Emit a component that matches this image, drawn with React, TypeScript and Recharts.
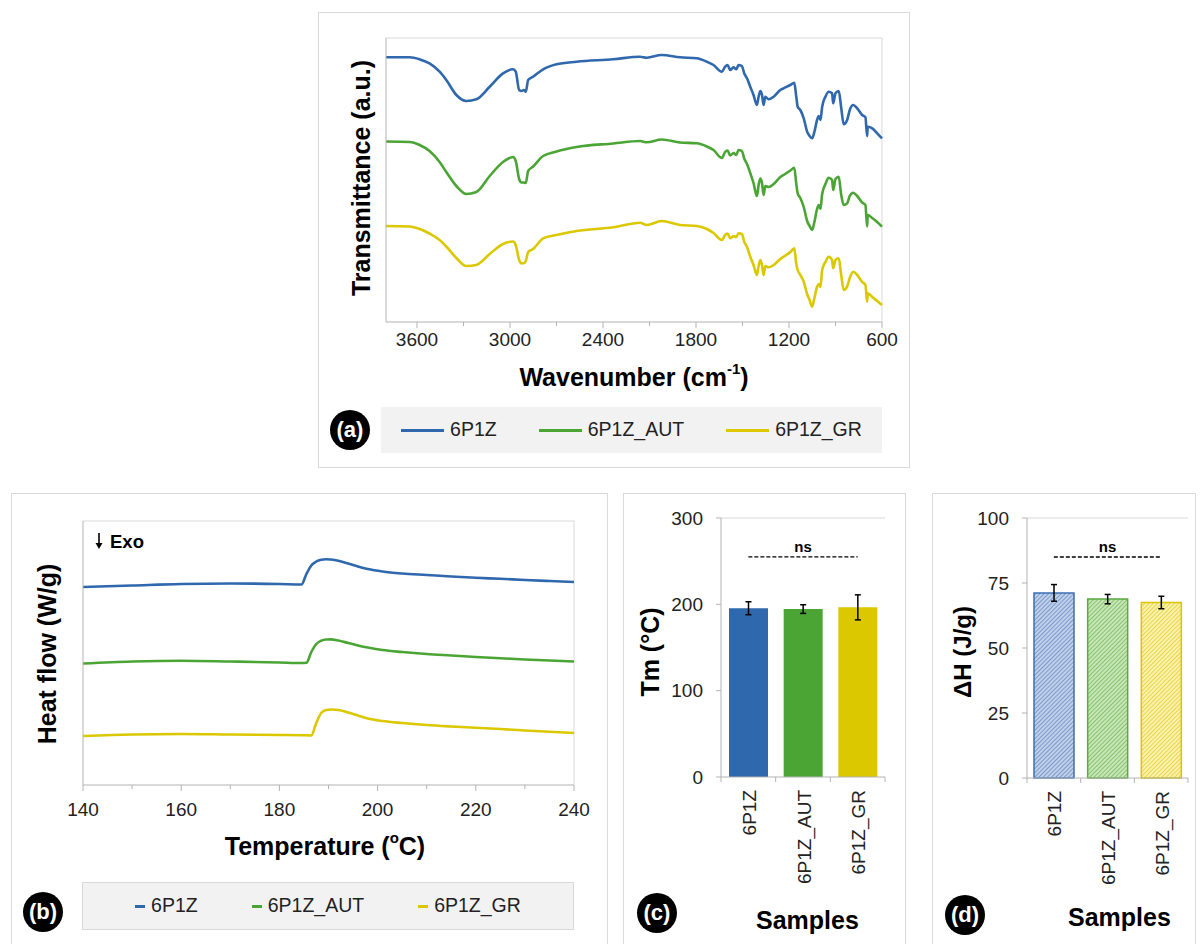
import React from 'react';
import { LineChart, Line, BarChart, Bar, XAxis, YAxis, ReferenceLine, Legend, ErrorBar, Cell } from 'recharts';

const FONT = '"Liberation Sans", Arial, Helvetica, sans-serif';
const BLUE = '#2f68ad';
const GREEN = '#4aa534';
const YELLOW = '#dcc800';
const AXIS = '#b3b3b3';
const FRAME = '#d9d9d9';
const TXT = '#222222';
const TICK_SIZE = 19;

// ---------- (a) FTIR ----------
const WAVENUMBER = [3800, 3648, 3583, 3519, 3454, 3411, 3346, 3282, 3217, 3131, 3045, 2980, 2963, 2941, 2926, 2911, 2898, 2883, 2851, 2786, 2700, 2570, 2334, 2161, 2118, 2021, 1903, 1795, 1730, 1687, 1633, 1612, 1597, 1579, 1558, 1540, 1526, 1504, 1489, 1471, 1450, 1429, 1407, 1396, 1385, 1374, 1364, 1353, 1332, 1299, 1256, 1235, 1191, 1166, 1153, 1144, 1127, 1105, 1083, 1067, 1051, 1036, 1019, 1008, 997, 986, 965, 944, 922, 915, 900, 879, 864, 847, 825, 808, 786, 760, 728, 707, 696, 692, 663, 631, 600];
const FTIR_6P1Z = [264.7, 264.7, 262.7, 258.7, 250.3, 242, 227, 221, 222.7, 235.3, 248.7, 252.7, 250.3, 232, 231, 232, 230.3, 242, 245.3, 252.7, 257.7, 260.3, 262.7, 265.3, 264.3, 267, 264.7, 263.7, 260.3, 257, 250.3, 255.3, 257, 252, 254.7, 252.7, 257, 256, 248.7, 243.7, 235.3, 227, 217, 225.3, 231, 227, 217, 225.3, 222.7, 225.3, 232, 233.7, 237, 239.3, 225.3, 215.3, 212, 203.7, 190.3, 186, 183.7, 190.3, 202, 206, 202, 215.3, 225.3, 230.3, 228.7, 218.7, 228.7, 231, 215.3, 197.7, 202, 212, 217, 213.7, 207, 204.7, 186, 195.3, 193.7, 188.7, 183.7];
const FTIR_AUT = [180.5, 180, 177, 171, 160, 150, 136, 128, 130, 146, 160, 165, 161, 143, 139.5, 139.5, 139, 151, 155.5, 166, 170.5, 175, 178.5, 181, 179.7, 182.5, 179.5, 178.7, 175.5, 172, 164, 170, 171.5, 166.5, 169, 167, 172, 171, 163.5, 158, 149, 139, 126, 137, 143.5, 139, 127, 136, 135, 138, 145, 147, 151.5, 154.3, 138, 128.7, 124, 115, 101, 96, 92, 100, 113, 117, 113, 128, 138, 144.3, 142, 132, 143, 145.3, 128, 117, 118.7, 126, 129.3, 126, 119.5, 117, 95.5, 107, 104, 100, 95.3];
const FTIR_GR = [96, 95.5, 93, 88.5, 82, 75.5, 64, 56, 57, 68, 78, 80.5, 77, 62, 58.7, 58.7, 61, 70, 73, 83.7, 87, 91, 94.7, 99.3, 97, 101, 97, 96, 93, 89, 82, 87, 88.5, 83.7, 86, 85, 88.7, 88, 80.3, 75, 65.3, 57, 47, 56, 62, 57, 47, 56, 54.7, 57, 63, 65.3, 70, 73.7, 58, 52, 47, 40.3, 28, 22, 15.3, 24, 35.3, 38, 35, 52, 60, 65.3, 62, 53.7, 62, 63.7, 48, 32, 35.3, 44, 50.3, 47, 40, 37, 20.3, 28.7, 25, 21, 17];
const FTIR_TICKS = [3600, 3300, 3000, 2700, 2400, 2100, 1800, 1500, 1200, 900, 600];

// ---------- (b) DSC ----------
const TEMP = [140, 150, 160, 170, 180, 184.5, 185.5, 186.5, 187.5, 188.5, 189.5, 190.5, 192, 194, 196, 198, 201, 205, 210, 215, 220, 225, 230, 235, 240];
const DSC_6P1Z = [198, 199.5, 201, 201.5, 201, 200.5, 211, 219.5, 223.5, 225.3, 225.8, 225.5, 224.3, 221.5, 218.5, 216, 213.5, 211.5, 210, 208.5, 207.2, 206.2, 205, 204, 203];
const DSC_AUT = [121.5, 123.5, 124.3, 123.5, 122.5, 122, 122.2, 133, 141, 144.3, 145.5, 145.6, 144.5, 142, 139.5, 137.5, 135, 133, 131, 129.5, 128, 126.8, 125.5, 124.5, 123.5];
const DSC_GR = [49, 50.5, 51, 50.5, 50, 49.8, 49.7, 49.5, 62, 72, 75, 75.5, 75, 72.5, 69.5, 66.5, 64, 62, 60, 58.5, 57.2, 56, 54.5, 53.2, 52];
const DSC_TICKS = [140, 150, 160, 170, 180, 190, 200, 210, 220, 230, 240];

// ---------- (c), (d) bars ----------
const SAMPLES = ['6P1Z', '6P1Z_AUT', '6P1Z_GR'];
const TM_MEAN = [195.5, 194.5, 196.5];
const TM_SD = [7.5, 5, 14.5];
const DH_MEAN = [71.2, 68.8, 67.5];
const DH_SD = [3.2, 1.8, 2.4];
const TM_TICKS = [0, 100, 200, 300];
const DH_TICKS = [0, 25, 50, 75, 100];
const TM_NS = 255;
const DH_NS = 85;

const ftirRows = WAVENUMBER.map((wn, i) => ({ wn, a: FTIR_6P1Z[i], b: FTIR_AUT[i], c: FTIR_GR[i] }));
const dscRows = TEMP.map((t, i) => ({ t, a: DSC_6P1Z[i], b: DSC_AUT[i], c: DSC_GR[i] }));
const tmRows = SAMPLES.map((name, i) => ({ name, v: TM_MEAN[i], sd: TM_SD[i] }));
const dhRows = SAMPLES.map((name, i) => ({ name, v: DH_MEAN[i], sd: DH_SD[i] }));

const BAR_COLORS = [BLUE, GREEN, YELLOW];
const HATCH_IDS = ['hatchBlue', 'hatchGreen', 'hatchYellow'];
const HATCH_EDGE = ['#3a6fb5', '#5aab3e', '#d9c400'];

function NumTick(props: any) {
  const { x, y, payload, majorStep, labelGap } = props;
  const v = payload.value;
  const major = Math.abs(v % majorStep) < 1e-6;
  return (
    <g>
      <line x1={x} x2={x} y1={y} y2={y + (major ? 6 : 4)} stroke={AXIS} strokeWidth={1} />
      {major && (
        <text x={x} y={y + labelGap} textAnchor="middle" dominantBaseline="central" fontSize={TICK_SIZE} fill={TXT} fontFamily={FONT}>
          {v}
        </text>
      )}
    </g>
  );
}

function CatTick(props: any) {
  const { x, y, payload, index, visibleTicksCount, width } = props;
  const count = visibleTicksCount || 3;
  const half = (width ? width / count : 54) / 2;
  return (
    <g>
      <line x1={x - half} x2={x - half} y1={y} y2={y + 5} stroke={AXIS} />
      {index === count - 1 && <line x1={x + half} x2={x + half} y1={y} y2={y + 5} stroke={AXIS} />}
      <text transform={`translate(${x + 1},${y + 13}) rotate(-90)`} textAnchor="end" dominantBaseline="central" fontSize={TICK_SIZE} fill={TXT} fontFamily={FONT}>
        {payload.value}
      </text>
    </g>
  );
}

function VTitle(props: any) {
  const { tx, ty, txt, size } = props;
  return (
    <text x={tx} y={ty} transform={`rotate(-90 ${tx} ${ty})`} textAnchor="middle" dominantBaseline="central" fontSize={size} fontWeight="bold" fill="#000" fontFamily={FONT}>
      {txt}
    </text>
  );
}

function HTitle(props: any) {
  const { tx, ty, pre, sup, post, size } = props;
  return (
    <text x={tx} y={ty} textAnchor="middle" dominantBaseline="central" fontSize={size} fontWeight="bold" fill="#000" fontFamily={FONT}>
      {pre}
      {sup ? <tspan dy={-9} fontSize={size * 0.6}>{sup}</tspan> : null}
      {sup ? <tspan dy={9}>{post}</tspan> : post}
    </text>
  );
}

function FixedText(props: any) {
  const { tx, ty, txt, size } = props;
  return (
    <text x={tx} y={ty} dominantBaseline="central" fontSize={size} fontWeight="bold" fill="#000" fontFamily={FONT}>
      {txt}
    </text>
  );
}

function ExoMark(props: any) {
  const { tx, ty } = props;
  return (
    <g>
      <line x1={tx} x2={tx} y1={ty - 8} y2={ty + 3} stroke="#000" strokeWidth={1.6} />
      <polygon points={`${tx - 3.5},${ty + 2} ${tx + 3.5},${ty + 2} ${tx},${ty + 8}`} fill="#000" />
      <text x={tx + 11} y={ty} dominantBaseline="central" fontSize={18.5} fontWeight="bold" fill="#000" fontFamily={FONT}>
        Exo
      </text>
    </g>
  );
}

function makeLegend(opts: any) {
  return (props: any) => {
    const items = props.payload || [];
    return (
      <div style={{ width: '100%', height: '100%', boxSizing: 'border-box', background: '#f2f2f2', border: opts.border, display: 'flex', alignItems: 'center', justifyContent: 'center', gap: opts.gap, fontFamily: FONT }}>
        {items.map((it: any, i: number) => (
          <div key={i} style={{ display: 'flex', alignItems: 'center' }}>
            <div style={{ width: opts.lineLen, height: 3, background: it.color }} />
            <span style={{ marginLeft: opts.textGap, fontSize: opts.fontSize, color: TXT, lineHeight: 1 }}>{it.value}</span>
          </div>
        ))}
      </div>
    );
  };
}

function Badge({ cx, cy, t }: any) {
  return (
    <div style={{ position: 'absolute', left: cx - 20, top: cy - 20, width: 40, height: 40, borderRadius: '50%', background: '#000', color: '#fff', display: 'flex', alignItems: 'center', justifyContent: 'center', fontWeight: 'bold', fontSize: 22, fontFamily: FONT }}>
      {t}
    </div>
  );
}

function Box({ left, top, width, height }: any) {
  return <div style={{ position: 'absolute', left, top, width, height, boxSizing: 'border-box', border: `1px solid ${FRAME}` }} />;
}

const legendA = makeLegend({ lineLen: 43, textGap: 6, gap: 42, fontSize: 19.5, border: 'none' });
const legendB = makeLegend({ lineLen: 10, textGap: 6, gap: 54, fontSize: 19.5, border: `1px solid ${FRAME}` });

export default function App() {
  return (
    <div style={{ position: 'absolute', left: 0, top: 0, width: 1200, height: 944, background: '#fff', overflow: 'hidden', fontFamily: FONT }}>
      <Box left={318} top={12} width={592} height={456} />
      <Box left={11} top={493} width={597} height={470} />
      <Box left={623} top={493} width={283} height={470} />
      <Box left={932} top={493} width={264} height={470} />

      {/* (a) FTIR */}
      <div style={{ position: 'absolute', left: 318, top: 12 }}>
        <LineChart width={592} height={456} data={ftirRows} margin={{ top: 26, right: 28, bottom: 0, left: 0 }}>
          <XAxis
            dataKey="wn"
            type="number"
            domain={[600, 3800]}
            reversed
            ticks={FTIR_TICKS}
            interval={0}
            height={146}
            tickSize={0}
            tickMargin={0}
            tickLine={false}
            axisLine={{ stroke: AXIS }}
            tick={<NumTick majorStep={600} labelGap={17} />}
            label={<HTitle tx={316} ty={365} pre="Wavenumber (cm" sup="-1" post=")" size={25} />}
          />
          <YAxis
            type="number"
            domain={[0, 284]}
            width={68}
            tick={false}
            tickLine={false}
            axisLine={{ stroke: AXIS }}
            label={<VTitle tx={43} ty={166} txt="Transmittance (a.u.)" size={25} />}
          />
          <ReferenceLine y={284} stroke={FRAME} />
          <ReferenceLine x={600} stroke={FRAME} />
          <Line dataKey="a" name="6P1Z" type="monotone" stroke={BLUE} strokeWidth={2.6} dot={false} isAnimationActive={false} />
          <Line dataKey="b" name="6P1Z_AUT" type="monotone" stroke={GREEN} strokeWidth={2.6} dot={false} isAnimationActive={false} />
          <Line dataKey="c" name="6P1Z_GR" type="monotone" stroke={YELLOW} strokeWidth={2.6} dot={false} isAnimationActive={false} />
          <Legend layout="horizontal" verticalAlign="middle" align="center" wrapperStyle={{ left: 63, top: 395, width: 501, height: 46 }} content={legendA} />
        </LineChart>
      </div>

      {/* (b) DSC */}
      <div style={{ position: 'absolute', left: 11, top: 493 }}>
        <LineChart width={597} height={451} data={dscRows} margin={{ top: 28, right: 34, bottom: 0, left: 0 }}>
          <XAxis
            dataKey="t"
            type="number"
            domain={[140, 240]}
            ticks={DSC_TICKS}
            interval={0}
            height={159}
            tickSize={0}
            tickMargin={0}
            tickLine={false}
            axisLine={{ stroke: AXIS }}
            tick={<NumTick majorStep={20} labelGap={24} />}
            label={<HTitle tx={314} ty={353} pre="Temperature (" sup="o" post="C)" size={25} />}
          />
          <YAxis
            type="number"
            domain={[0, 264]}
            width={72}
            tick={false}
            tickLine={false}
            axisLine={{ stroke: AXIS }}
            label={<VTitle tx={36} ty={161} txt="Heat flow (W/g)" size={25} />}
          />
          <ReferenceLine y={264} stroke={FRAME} label={<ExoMark tx={88} ty={48} />} />
          <ReferenceLine x={240} stroke={FRAME} />
          <Line dataKey="a" name="6P1Z" type="monotone" stroke={BLUE} strokeWidth={2.6} dot={false} isAnimationActive={false} />
          <Line dataKey="b" name="6P1Z_AUT" type="monotone" stroke={GREEN} strokeWidth={2.6} dot={false} isAnimationActive={false} />
          <Line dataKey="c" name="6P1Z_GR" type="monotone" stroke={YELLOW} strokeWidth={2.6} dot={false} isAnimationActive={false} />
          <Legend layout="horizontal" verticalAlign="middle" align="center" wrapperStyle={{ left: 71, top: 389, width: 492, height: 48 }} content={legendB} />
        </LineChart>
      </div>

      {/* (c) Tm */}
      <div style={{ position: 'absolute', left: 623, top: 493 }}>
        <BarChart width={283} height={451} data={tmRows} margin={{ top: 25, right: 21, bottom: 0, left: 0 }}>
          <XAxis
            dataKey="name"
            interval={0}
            height={167}
            tickSize={0}
            tickMargin={0}
            tickLine={false}
            axisLine={{ stroke: AXIS }}
            tick={<CatTick />}
            label={<FixedText tx={133} ty={427} txt="Samples" size={25} />}
          />
          <YAxis
            type="number"
            domain={[0, 300]}
            ticks={TM_TICKS}
            interval={0}
            width={98}
            tickSize={5}
            tickMargin={13}
            tickLine={{ stroke: AXIS }}
            axisLine={{ stroke: AXIS }}
            tick={{ fontSize: TICK_SIZE, fill: TXT, fontFamily: FONT }}
            label={<VTitle tx={27} ty={159} txt="Tm (°C)" size={25} />}
          />
          <YAxis yAxisId="frame" orientation="right" type="number" domain={[0, 1]} width={0} tick={false} tickLine={false} axisLine={{ stroke: FRAME }} />
          <ReferenceLine y={300} stroke={FRAME} />
          <Bar dataKey="v" barSize={39} isAnimationActive={false}>
            {tmRows.map((r, i) => (
              <Cell key={r.name} fill={BAR_COLORS[i]} />
            ))}
            <ErrorBar dataKey="sd" width={3} strokeWidth={1.5} stroke="#000" direction="y" />
          </Bar>
          <ReferenceLine
            segment={[{ x: SAMPLES[0], y: TM_NS }, { x: SAMPLES[2], y: TM_NS }]}
            stroke="#000"
            strokeWidth={1.4}
            strokeDasharray="4 2"
            label={{ value: 'ns', position: 'top', offset: 5, fill: '#000', fontSize: 15, fontWeight: 'bold' }}
          />
        </BarChart>
      </div>

      {/* (d) ΔH */}
      <div style={{ position: 'absolute', left: 932, top: 493 }}>
        <BarChart width={264} height={451} data={dhRows} margin={{ top: 25, right: 8, bottom: 0, left: 0 }}>
          <defs>
            <pattern id="hatchBlue" width="3" height="3" patternUnits="userSpaceOnUse" patternTransform="rotate(45)">
              <rect width="3" height="3" fill="#c0d0ea" />
              <line x1="0" y1="0" x2="0" y2="3" stroke="#4a78b8" strokeWidth="1.2" />
            </pattern>
            <pattern id="hatchGreen" width="3" height="3" patternUnits="userSpaceOnUse" patternTransform="rotate(45)">
              <rect width="3" height="3" fill="#c8e6b8" />
              <line x1="0" y1="0" x2="0" y2="3" stroke="#5aab3e" strokeWidth="1.2" />
            </pattern>
            <pattern id="hatchYellow" width="3" height="3" patternUnits="userSpaceOnUse" patternTransform="rotate(45)">
              <rect width="3" height="3" fill="#fbf2b0" />
              <line x1="0" y1="0" x2="0" y2="3" stroke="#d9c400" strokeWidth="1.2" />
            </pattern>
          </defs>
          <XAxis
            dataKey="name"
            interval={0}
            height={166}
            tickSize={0}
            tickMargin={0}
            tickLine={false}
            axisLine={{ stroke: AXIS }}
            tick={<CatTick />}
            label={<FixedText tx={136} ty={424} txt="Samples" size={25} />}
          />
          <YAxis
            type="number"
            domain={[0, 100]}
            ticks={DH_TICKS}
            interval={0}
            width={95}
            tickSize={5}
            tickMargin={13}
            tickLine={{ stroke: AXIS }}
            axisLine={{ stroke: AXIS }}
            tick={{ fontSize: TICK_SIZE, fill: TXT, fontFamily: FONT }}
            label={<VTitle tx={30} ty={159} txt="ΔH (J/g)" size={24} />}
          />
          <YAxis yAxisId="frame" orientation="right" type="number" domain={[0, 1]} width={0} tick={false} tickLine={false} axisLine={{ stroke: FRAME }} />
          <ReferenceLine y={100} stroke={FRAME} />
          <Bar dataKey="v" barSize={40} isAnimationActive={false}>
            {dhRows.map((r, i) => (
              <Cell key={r.name} fill={`url(#${HATCH_IDS[i]})`} stroke={HATCH_EDGE[i]} strokeWidth={1.5} />
            ))}
            <ErrorBar dataKey="sd" width={3} strokeWidth={1.5} stroke="#000" direction="y" />
          </Bar>
          <ReferenceLine
            segment={[{ x: SAMPLES[0], y: DH_NS }, { x: SAMPLES[2], y: DH_NS }]}
            stroke="#000"
            strokeWidth={1.4}
            strokeDasharray="4 2"
            label={{ value: 'ns', position: 'top', offset: 5, fill: '#000', fontSize: 15, fontWeight: 'bold' }}
          />
        </BarChart>
      </div>

      <Badge cx={350} cy={430} t="(a)" />
      <Badge cx={43} cy={912} t="(b)" />
      <Badge cx={657} cy={913} t="(c)" />
      <Badge cx={965} cy={915} t="(d)" />
    </div>
  );
}
